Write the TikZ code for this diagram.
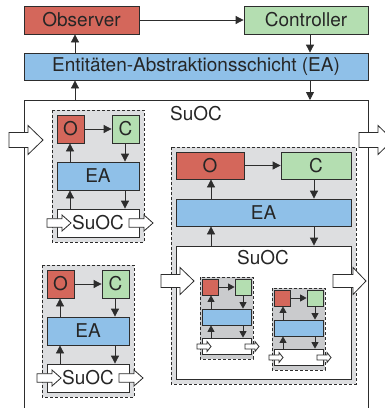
\documentclass[tikz,border=0pt]{standalone}
\usepackage{fontspec}
\setmainfont{TeX Gyre Heros}
\usetikzlibrary{arrows.meta}
\definecolor{obsred}{RGB}{212,103,91}
\definecolor{ctrlgreen}{RGB}{180,222,177}
\definecolor{eablue}{RGB}{143,192,232}
\definecolor{subgray}{RGB}{221,222,224}
\definecolor{tinygray}{RGB}{202,203,205}
\definecolor{edgec}{RGB}{45,45,45}
\tikzset{
  bx/.style={draw=edgec, line width=0.8pt, inner sep=0pt, text=black!85, font=\fontsize{19}{22}\selectfont},
  obsbox/.style={bx, fill=obsred},
  ctrlbox/.style={bx, fill=ctrlgreen},
  eabox/.style={bx, fill=eablue},
  subox/.style={bx, fill=white},
  lbl/.style={inner sep=0pt, text=black!85, font=\fontsize{19}{22}\selectfont},
  arr/.style={-{Triangle[length=8pt,width=8pt]}, draw=edgec, line width=0.8pt},
  tarr/.style={-{Triangle[length=6.5pt,width=7pt]}, draw=edgec, line width=0.7pt},
  dbox/.style={draw=edgec, dash pattern=on 3pt off 2pt, fill=subgray, line width=0.8pt},
  tdbox/.style={draw=edgec, dash pattern=on 3pt off 2pt, fill=tinygray, line width=0.8pt},
  fat/.style={draw=edgec, fill=white, line width=0.8pt, line join=miter},
  outerline/.style={draw=edgec, line width=0.9pt},
}
\newcommand\mkbox[7]{\node[#2, minimum width={(#5-#3)*1pt}, minimum height={(#6-#4)*1pt}] (#1) at ({(#3+#5)/2},{(#4+#6)/2}) {#7};}
\newcommand\fatarrow[6]{\draw[fat] (#1,{#4-#5}) -- (#2,{#4-#5}) -- (#2,{#4-#6}) -- (#3,#4) -- (#2,{#4+#6}) -- (#2,{#4+#5}) -- (#1,{#4+#5}) -- cycle;}
\newcommand\smallsys[3]{%
\begin{scope}[shift={(#2,#3)}]
\draw[dbox] (0,0) rectangle (92,132);
\mkbox{#1O}{obsbox}{5}{5}{32}{33}{O}
\mkbox{#1C}{ctrlbox}{60}{5}{87}{33}{C}
\mkbox{#1E}{eabox}{5}{52}{87}{80}{EA}
\mkbox{#1S}{subox}{5}{99}{87}{127}{SuOC}
\coordinate (#1l) at (18,0);
\coordinate (#1r) at (73,0);
\draw[arr] (#1O) -- (#1C);
\draw[arr] (#1E.north -| #1l) -- (#1O.south -| #1l);
\draw[arr] (#1C.south -| #1r) -- (#1E.north -| #1r);
\draw[arr] (#1S.north -| #1l) -- (#1E.south -| #1l);
\draw[arr] (#1E.south -| #1r) -- (#1S.north -| #1r);
\fatarrow{-5}{10}{19}{113}{4.3}{8}
\fatarrow{77}{92}{101}{113}{4.3}{8}
\end{scope}}
\newcommand\tinysys[3]{%
\begin{scope}[shift={(#2,#3)}]
\draw[tdbox] (0,0) rectangle (53,82);
\mkbox{#1O}{obsbox}{2}{2}{18}{18}{}
\mkbox{#1C}{ctrlbox}{35}{2}{51}{18}{}
\mkbox{#1E}{eabox}{2}{32}{51}{48}{}
\mkbox{#1S}{subox}{2}{61}{51}{77}{}
\coordinate (#1l) at (11,0);
\coordinate (#1r) at (43,0);
\draw[tarr] (#1O) -- (#1C);
\draw[tarr] (#1E.north -| #1l) -- (#1O.south -| #1l);
\draw[tarr] (#1C.south -| #1r) -- (#1E.north -| #1r);
\draw[tarr] (#1S.north -| #1l) -- (#1E.south -| #1l);
\draw[tarr] (#1E.south -| #1r) -- (#1S.north -| #1r);
\fatarrow{-3}{7}{11}{69.5}{2.5}{5}
\fatarrow{45}{55}{59}{69.5}{2.5}{5}
\end{scope}}
\begin{document}
\begin{tikzpicture}[x=1pt,y=-1pt]
\useasboundingbox (0,0) rectangle (385,408);
\clip (0,0) rectangle (385,408);
\fill[white] (0,0) rectangle (385,408);
% top level
\mkbox{obs}{obsbox}{24}{6}{139}{34}{Observer}
\mkbox{ctrl}{ctrlbox}{244}{6}{368}{34}{Controller}
\mkbox{ea}{eabox}{24}{53}{368}{80}{Entitäten-Abstraktionsschicht (EA)}
\coordinate (suoctl) at (24,100);
\coordinate (suoctr) at (368,100);
\coordinate (suocbl) at (24,420);
\coordinate (suocbr) at (368,420);
\draw[outerline] (suocbl) -- (suoctl) -- (suoctr) -- (suocbr);
\node[lbl] (suoclbl) at (196,114) {SuOC};
\coordinate (xl) at (75,0);
\coordinate (xr) at (310,0);
\draw[arr] (obs) -- (ctrl);
\draw[arr] (ea.north -| xl) -- (obs.south -| xl);
\draw[arr] (ctrl.south -| xr) -- (ea.north -| xr);
\draw[arr] (suoctl -| xl) -- (ea.south -| xl);
\draw[arr] (ea.south -| xr) -- (suoctr -| xr);
% small subsystems
\smallsys{sa}{52}{110}
\smallsys{sb}{42}{265}
% big subsystem
\draw[dbox] (171,147) rectangle (356,384);
\mkbox{bO}{obsbox}{176}{152}{244}{179}{O}
\mkbox{bC}{ctrlbox}{281}{152}{351}{179}{C}
\mkbox{bE}{eabox}{176}{199}{351}{226}{EA}
\mkbox{bS}{subox}{176}{246}{351}{379}{}
\node[lbl] (bSl) at (263,258) {SuOC};
\coordinate (bl) at (211,0);
\coordinate (br) at (314,0);
\draw[arr] (bO) -- (bC);
\draw[arr] (bE.north -| bl) -- (bO.south -| bl);
\draw[arr] (bC.south -| br) -- (bE.north -| br);
\draw[arr] (bS.north -| bl) -- (bE.south -| bl);
\draw[arr] (bE.south -| br) -- (bS.north -| br);
\tinysys{ta}{200}{277}
\tinysys{tb}{272}{288}
\fatarrow{161}{180}{194}{281}{6.5}{13.5}
\fatarrow{333}{353}{366}{281}{6.5}{13.5}
% outer fat arrows
\fatarrow{9}{28}{43}{140}{7.5}{14.5}
\fatarrow{359}{378}{393}{140}{7.5}{14.5}
\end{tikzpicture}
\end{document}
